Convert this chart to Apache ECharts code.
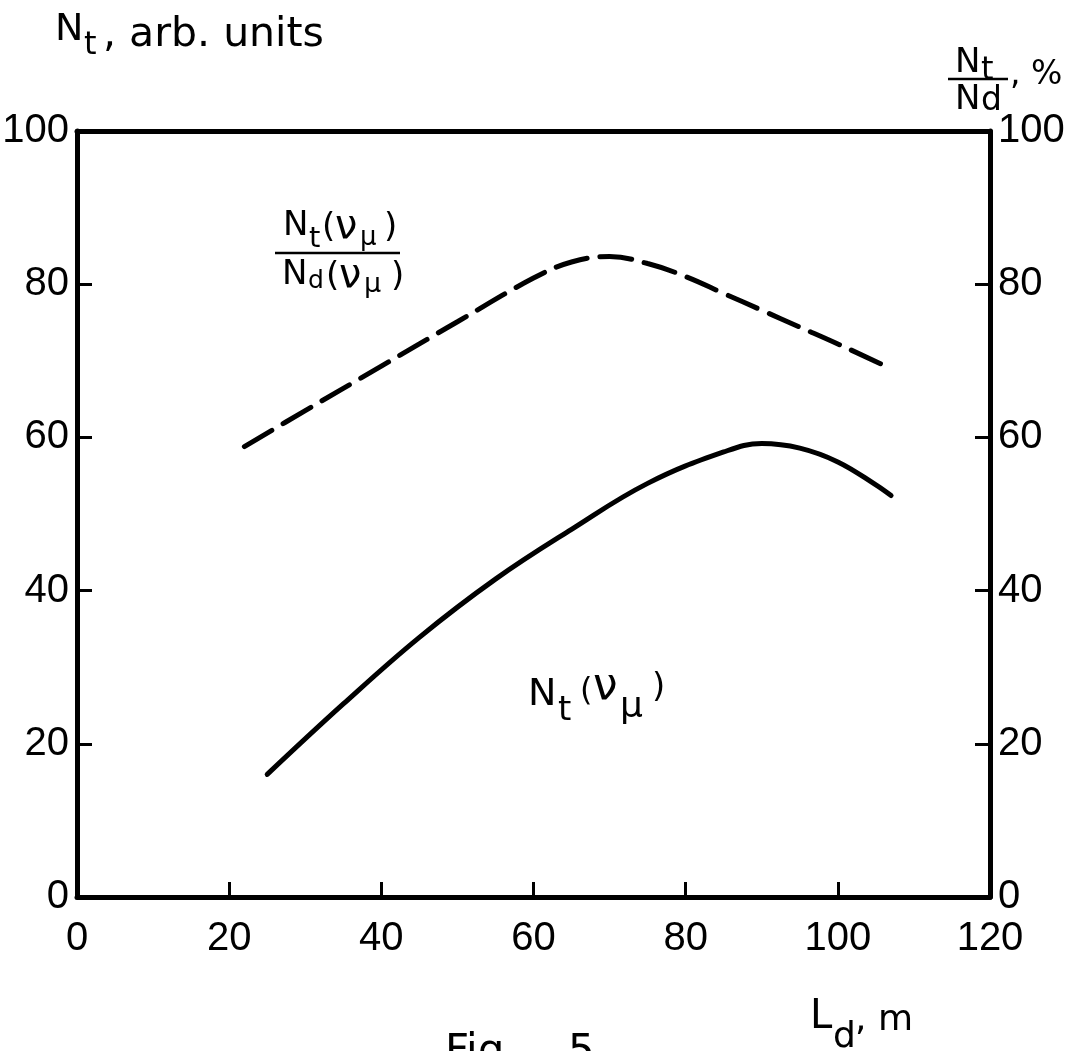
<!DOCTYPE html>
<html>
<head>
<meta charset="UTF-8">
<title>N_t vs L_d</title>
<script src="https://cdn.jsdelivr.net/npm/echarts@6/dist/echarts.min.js"></script>
<style>
    html, body { margin: 0; padding: 0; background: #fff; }
    #chart { width: 1079px; height: 1051px; }
</style>
</head>
<body>
<div id="chart"></div>
<script>
    // axis ticks
    var xTicks = [0, 20, 40, 60, 80, 100, 120];   // L_d, m
    var yTicks = [0, 20, 40, 60, 80, 100];        // both sides

    // N_t(nu_mu), arb. units  -- solid curve, left axis
    var ntL   = [25, 35, 45, 55, 65, 75, 85, 90, 95, 100, 105, 107];
    var ntVal = [16.0, 25.2, 33.9, 41.5, 48.0, 54.0, 58.1, 59.2, 58.6, 56.8, 53.8, 52.4];

    // N_t/N_d, %  -- dashed curve, right axis
    var ratioL   = [22, 30, 40, 50, 60, 65, 70, 75, 80, 85, 90, 95, 100, 106.3];
    var ratioVal = [58.8, 63.5, 69.3, 75.1, 80.8, 82.9, 83.6, 82.7, 81.0, 78.8, 76.6, 74.4, 72.2, 69.3];

    var ink = '#000';
    var tickFont = 'Liberation Sans';
    var textFont = 'DejaVu Sans';

    function pairs(xs, ys) {
        return xs.map(function (x, i) { return [x, ys[i]]; });
    }

    // one piece of text, placed by its baseline
    function seg(str, x, base, size) {
        return {
            type: 'text', x: x, y: base - 0.85 * size, silent: true,
            style: { text: str, fontSize: size, fontFamily: textFont, fill: ink, verticalAlign: 'top' }
        };
    }
    function bar(x1, x2, y) {
        return {
            type: 'line', silent: true,
            shape: { x1: x1, y1: y, x2: x2, y2: y },
            style: { stroke: ink, lineWidth: 2.5 }
        };
    }

    var lineStyle = { color: ink, width: 5 };
    var tickStyle = { show: true, inside: true, length: 15, lineStyle: { color: ink, width: 3 } };
    var labelStyle = { fontSize: 40, fontFamily: tickFont, color: ink };

    var chart = echarts.init(document.getElementById('chart'));
    var option = {
        animation: false,
        backgroundColor: '#fff',
        grid: { left: 77, right: 89, top: 131, bottom: 154, containLabel: false, outerBoundsMode: 'none' },
        xAxis: [
            {
                type: 'value', min: xTicks[0], max: xTicks[xTicks.length - 1], interval: 20,
                position: 'bottom',
                axisLine: { show: true, onZero: false, lineStyle: lineStyle },
                axisTick: tickStyle,
                axisLabel: Object.assign({ margin: 22 }, labelStyle),
                splitLine: { show: false }
            },
            {
                type: 'value', min: xTicks[0], max: xTicks[xTicks.length - 1],
                position: 'top',
                axisLine: { show: true, onZero: false, lineStyle: lineStyle },
                axisTick: { show: false },
                axisLabel: { show: false },
                splitLine: { show: false }
            }
        ],
        yAxis: [
            {
                type: 'value', min: yTicks[0], max: yTicks[yTicks.length - 1], interval: 20,
                position: 'left',
                axisLine: { show: true, onZero: false, lineStyle: lineStyle },
                axisTick: tickStyle,
                axisLabel: Object.assign({ margin: 8 }, labelStyle),
                splitLine: { show: false }
            },
            {
                type: 'value', min: yTicks[0], max: yTicks[yTicks.length - 1], interval: 20,
                position: 'right',
                axisLine: { show: true, onZero: false, lineStyle: lineStyle },
                axisTick: tickStyle,
                axisLabel: Object.assign({ margin: 8 }, labelStyle),
                splitLine: { show: false }
            }
        ],
        series: [
            {
                name: 'Nt(νμ)',
                type: 'line', xAxisIndex: 0, yAxisIndex: 0,
                data: pairs(ntL, ntVal),
                smooth: 0.4, symbol: 'none',
                lineStyle: { color: ink, width: 5, cap: 'round' }
            },
            {
                name: 'Nt/Nd',
                type: 'line', xAxisIndex: 0, yAxisIndex: 1,
                data: pairs(ratioL, ratioVal),
                smooth: 0.4, symbol: 'none',
                lineStyle: { color: ink, width: 5, type: [32, 13], cap: 'round' }
            }
        ],
        graphic: [
            // left axis title
            seg('N', 55, 43, 38), seg('t', 84, 57, 32), seg(', arb. units', 103, 50, 41),
            // right axis title
            seg('N', 955, 75, 34), seg('t', 981, 82, 32), bar(948, 1008, 79),
            seg('N', 955, 112, 34), seg('d', 981, 113, 33), seg(', %', 1010, 87, 33),
            // ratio label
            seg('N', 283, 238, 34), seg('t', 309, 250, 29), seg('(', 322, 240, 34),
            seg('ν', 335, 242, 40), seg('μ', 360, 247, 26), seg(')', 384, 240, 34),
            bar(275, 400, 253),
            seg('N', 282, 287, 34), seg('d', 308, 290, 25), seg('(', 326, 289, 34),
            seg('ν', 339, 291, 40), seg('μ', 364, 294, 27), seg(')', 391, 289, 34),
            // solid curve label
            seg('N', 528, 708, 38), seg('t', 558, 723, 34), seg('(', 580, 703, 32),
            seg('ν', 593, 703, 44), seg('μ', 620, 720, 36), seg(')', 652, 700, 34),
            // x axis title
            seg('L', 810, 1032, 40), seg('d', 833, 1050, 36), seg(', m', 855, 1033, 36),
            // figure caption, cut by the page edge
            seg('Fig.', 445, 1068, 42), seg('5', 568, 1068, 42)
        ]
    };
    chart.setOption(option);
</script>
</body>
</html>
